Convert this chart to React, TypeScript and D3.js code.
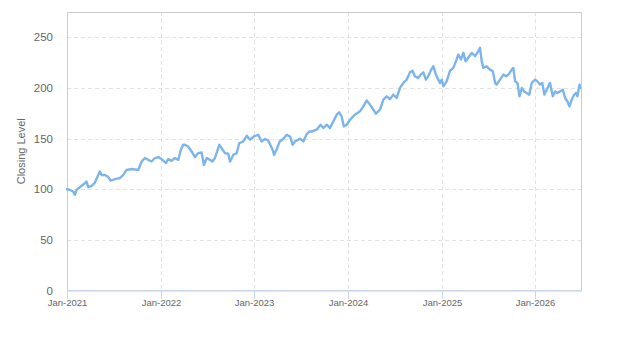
import React from "react";
import * as d3 from "d3";

// Closing level series (sampled dates and values)
const dates: string[] = [
  "2021-01-01","2021-01-12","2021-01-25","2021-02-01","2021-02-07","2021-02-20","2021-03-12","2021-03-18","2021-03-25","2021-04-07",
  "2021-04-20","2021-05-03","2021-05-09","2021-05-16","2021-05-29","2021-06-11","2021-06-20","2021-07-07","2021-07-26","2021-08-08",
  "2021-08-21","2021-09-10","2021-10-06","2021-10-19","2021-11-01","2021-11-14","2021-11-27","2021-12-10","2021-12-23","2022-01-05",
  "2022-01-22","2022-01-31","2022-02-13","2022-02-26","2022-03-11","2022-03-20","2022-03-30","2022-04-06","2022-04-19","2022-05-02",
  "2022-05-15","2022-05-28","2022-06-10","2022-06-19","2022-06-30","2022-07-13","2022-07-22","2022-08-01","2022-08-18","2022-08-27",
  "2022-09-09","2022-09-22","2022-09-29","2022-10-12","2022-10-25","2022-11-04","2022-11-20","2022-12-03","2022-12-16","2022-12-31",
  "2023-01-17","2023-01-30","2023-02-12","2023-02-25","2023-03-14","2023-03-20","2023-03-29","2023-04-11","2023-04-24","2023-05-08",
  "2023-05-21","2023-05-31","2023-06-09","2023-06-22","2023-06-29","2023-07-12","2023-07-25","2023-08-04","2023-08-13","2023-09-02",
  "2023-09-17","2023-09-28","2023-10-11","2023-10-24","2023-11-06","2023-11-19","2023-11-29","2023-12-08","2023-12-17","2023-12-28",
  "2024-01-10","2024-01-29","2024-02-18","2024-03-02","2024-03-15","2024-03-28","2024-04-10","2024-04-20","2024-05-06","2024-05-19",
  "2024-06-01","2024-06-14","2024-06-27","2024-07-10","2024-07-23","2024-08-05","2024-08-18","2024-08-31","2024-09-10","2024-09-19",
  "2024-10-02","2024-10-12","2024-10-22","2024-11-01","2024-11-10","2024-11-23","2024-11-30","2024-12-10","2024-12-19","2024-12-26",
  "2025-01-02","2025-01-08","2025-01-21","2025-02-03","2025-02-16","2025-03-01","2025-03-07","2025-03-18","2025-03-27","2025-04-05",
  "2025-04-15","2025-04-29","2025-05-12","2025-05-24","2025-05-31","2025-06-07","2025-06-13","2025-06-26","2025-07-09","2025-07-20",
  "2025-07-29","2025-08-04","2025-08-17","2025-08-30","2025-09-10","2025-09-19","2025-10-02","2025-10-08","2025-10-15","2025-10-24",
  "2025-11-01","2025-11-10","2025-11-19","2025-11-29","2025-12-09","2025-12-19","2026-01-01","2026-01-10","2026-01-20","2026-01-29",
  "2026-02-06","2026-02-15","2026-02-28","2026-03-11","2026-03-20","2026-03-29","2026-04-08","2026-04-19","2026-04-28","2026-05-07",
  "2026-05-15","2026-05-24","2026-06-02","2026-06-10","2026-06-15","2026-06-23","2026-06-26",
];

const closes: number[] = [
  100, 99.5, 97.7, 94.5, 99.4, 102, 106, 107.6, 102, 103.4,
  106.6, 114, 117.5, 114, 114, 112, 108.6, 110, 111, 114,
  119, 120, 119, 127.4, 130.8, 129, 127.4, 130.8, 131.7, 129.8,
  125.8, 129.8, 128, 130.8, 129, 138, 143.9, 143.9, 142, 137.3,
  131.7, 135.7, 136.3, 124, 130.8, 129, 127.4, 130.8, 143.9, 140.6,
  135.7, 135, 127.4, 134, 135.7, 145.6, 147.2, 152.8, 148.9, 152.1,
  153.8, 147.2, 149.6, 148.2, 139, 134, 139, 147.2, 149.6, 153.8,
  152.1, 143.9, 147.2, 148.9, 150, 147.2, 154.5, 157, 157, 158.8,
  163.7, 160.4, 163.7, 160.4, 167, 173.6, 175.9, 172, 162, 163.7,
  168.6, 173.6, 176.9, 181.8, 187.7, 183.5, 178.5, 174.6, 178.5, 188.4,
  191.7, 189.1, 193.4, 190.1, 200, 205, 208.2, 215.4, 217, 211.5,
  209.9, 213.2, 215.4, 208.2, 211.5, 218.6, 221.4, 213.2, 208.2, 205,
  208.2, 201.6, 206.5, 217, 219.8, 228.2, 233, 228.2, 234.6, 226.3,
  229.8, 234.6, 231.4, 236.2, 239.6, 226, 219.8, 221.4, 218.1, 216.4,
  205, 203.3, 208.2, 213.2, 211.5, 213.2, 218.1, 219.8, 206.5, 205,
  191.7, 200, 196.6, 195, 193.4, 205, 208.2, 206.5, 203.3, 205,
  193.4, 198.3, 205, 191.7, 196.6, 195, 196.6, 198.3, 190.1, 186.7,
  181.8, 188.4, 193.4, 195, 191.7, 203.3, 200,
];

const yTicks: number[] = [0, 50, 100, 150, 200, 250];
const xTickYears: number[] = [2021, 2022, 2023, 2024, 2025, 2026];
const yTitle = "Closing Level";

const W = 623;
const H = 350;
const M = { left: 67, right: 581, top: 12, bottom: 290.5 };

export default function App() {
  const parse = d3.timeParse("%Y-%m-%d");
  const series = dates.map((d, i) => ({ date: parse(d) as Date, value: closes[i] }));

  const x = d3
    .scaleTime()
    .domain([new Date(2021, 0, 1), new Date(2026, 5, 29)])
    .range([M.left, M.right]);
  const y = d3.scaleLinear().domain([0, 275]).range([M.bottom, M.top]);

  const line = d3
    .line<{ date: Date; value: number }>()
    .x((d) => x(d.date))
    .y((d) => y(d.value))
    .curve(d3.curveLinear);

  const fmt = d3.timeFormat("%b-%Y");
  const font = "'Liberation Sans', Arial, sans-serif";

  return (
    <svg
      width={W}
      height={H}
      style={{ position: "absolute", left: 0, top: 0, background: "#fff" }}
      fontFamily={font}
    >
      <rect x={0} y={0} width={W} height={H} fill="#fff" />
      {/* horizontal grid */}
      {yTicks.slice(1).map((t) => (
        <line
          key={"gy" + t}
          x1={M.left}
          x2={M.right}
          y1={Math.round(y(t)) + 0.5}
          y2={Math.round(y(t)) + 0.5}
          stroke="#e2e2e2"
          strokeDasharray="4,3"
        />
      ))}
      {/* vertical grid */}
      {xTickYears.slice(1).map((yr) => {
        const px = Math.round(x(new Date(yr, 0, 1))) + 0.5;
        return (
          <line
            key={"gx" + yr}
            x1={px}
            x2={px}
            y1={M.top}
            y2={M.bottom}
            stroke="#e2e2e2"
            strokeDasharray="4,3"
          />
        );
      })}
      {/* plot border */}
      <rect
        x={M.left + 0.5}
        y={M.top + 0.5}
        width={M.right - M.left}
        height={M.bottom - M.top}
        fill="none"
        stroke="#cccccc"
      />
      {/* x axis line and ticks */}
      <line x1={M.left} x2={M.right + 0.5} y1={290.5} y2={290.5} stroke="#ccd6eb" />
      {xTickYears.map((yr) => {
        const d = new Date(yr, 0, 1);
        const px = Math.round(x(d)) + 0.5;
        return (
          <g key={"xt" + yr}>
            <line x1={px} x2={px} y1={290.5} y2={299} stroke="#ccd6eb" />
            <text x={px} y={306} fontSize={9.5} fill="#666" textAnchor="middle">
              {fmt(d)}
            </text>
          </g>
        );
      })}
      {/* y labels */}
      {yTicks.map((t) => (
        <text
          key={"yl" + t}
          x={53}
          y={y(t) + 4}
          fontSize={11.5}
          fill="#666"
          textAnchor="end"
        >
          {t}
        </text>
      ))}
      <text
        transform={`translate(24.5, ${(M.top + M.bottom) / 2}) rotate(-90)`}
        fontSize={11}
        fill="#666"
        textAnchor="middle"
      >
        {yTitle}
      </text>
      {/* series */}
      <path
        d={line(series) || ""}
        fill="none"
        stroke="#7cb5ec"
        strokeWidth={2.4}
        strokeLinejoin="round"
        strokeLinecap="round"
      />
    </svg>
  );
}
